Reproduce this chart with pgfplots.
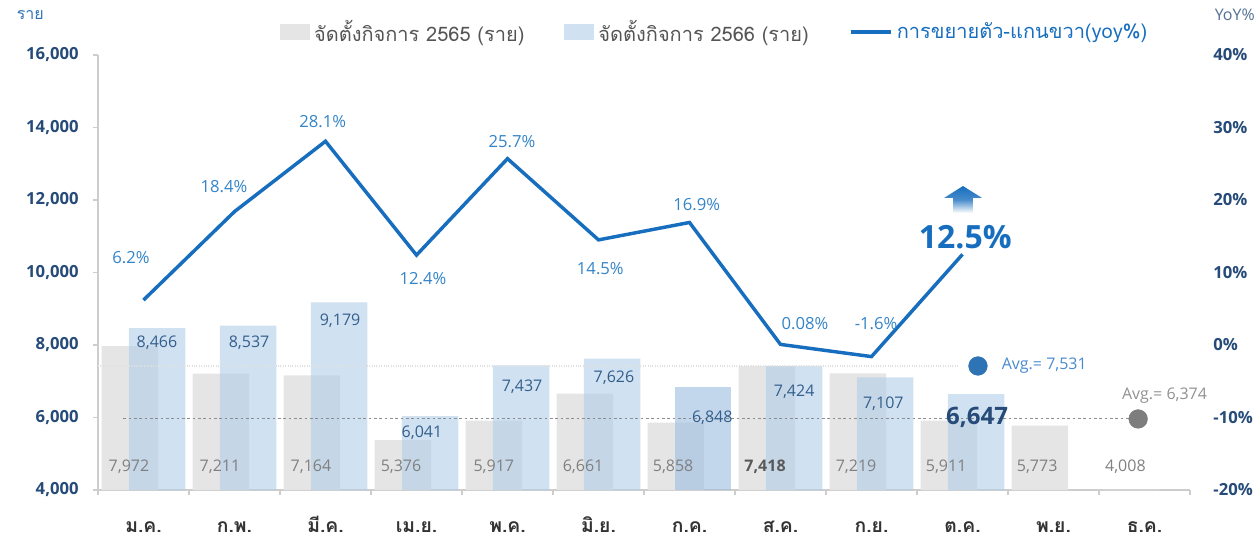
\documentclass[border=0pt]{standalone}
\usepackage{fontspec}
\setmainfont{Open Sans}
\newfontfamily\thaifont[Script=Thai]{Loma}
\usepackage{pgfplots}
\pgfplotsset{compat=1.18}

\definecolor{graybar}{RGB}{229,229,229}
\definecolor{bluebar}{RGB}{177,205,233}
\definecolor{bluebarhi}{RGB}{155,188,224}
\definecolor{yoyline}{RGB}{24,110,190}
\definecolor{yoytext}{RGB}{52,132,200}
\definecolor{ticknavy}{RGB}{38,75,120}
\definecolor{valblue}{RGB}{52,95,140}
\definecolor{valgray}{RGB}{128,128,128}
\definecolor{axisgray}{RGB}{205,205,205}
\definecolor{avgblue}{RGB}{46,116,181}
\definecolor{avgtext}{RGB}{74,138,208}
\definecolor{avggray}{RGB}{125,125,125}
\definecolor{legtext}{RGB}{85,85,85}

\newcommand{\fs}[1]{\fontsize{#1}{#1}\selectfont}

\pgfplotsset{
  barlegend/.style={legend image code/.code={\fill[##1] (0pt,-6pt) rectangle (22.5pt,6pt);}},
  linelegend/.style={legend image code/.code={\draw[##1] (0pt,0pt) -- (30pt,0pt);}},
}

\begin{document}
\begin{tikzpicture}
\useasboundingbox (-73.5pt,-37.5pt) rectangle (870.75pt,367.5pt);
% ---- left axis: bars ----
\begin{axis}[
  scale only axis, width=819pt, height=326.25pt,
  xmin=-0.5, xmax=11.5, ymin=4000, ymax=16000,
  clip mode=individual,
  axis x line*=bottom, axis y line*=left,
  axis line style={axisgray, line width=0.8pt},
  xtick={-0.5,0.5,...,11.5},
  x tick label as interval,
  xticklabels={ม.ค.,ก.พ.,มี.ค.,เม.ย.,พ.ค.,มิ.ย.,ก.ค.,ส.ค.,ก.ย.,ต.ค.,พ.ย.,ธ.ค.},
  x tick label style={font=\thaifont\bfseries\fs{14.5}, text=black!80,
    text height=11pt, text depth=3pt, yshift=-13pt},
  ytick={4000,6000,...,16000}, scaled y ticks=false,
  y tick label style={font=\bfseries\fs{12.5}, text=ticknavy, xshift=-7pt},
  /pgf/number format/.cd, 1000 sep={,}, assume math mode=true, /pgfplots/.cd,
  tick style={axisgray, line width=0.8pt},
  major tick length=4pt, tick align=outside,
  legend style={at={(0.565,1.053)}, anchor=center, draw=none, fill=none,
    font=\thaifont\fs{15}, inner sep=0pt,
    /tikz/every odd column/.append style={column sep=1pt},
    /tikz/every even column/.append style={column sep=28pt}},
  legend columns=3,
]
\addplot[ybar, bar width=0.62, bar shift=-0.15, fill=graybar, draw=none, barlegend]
  coordinates {(0,7972)(1,7211)(2,7164)(3,5376)(4,5917)(5,6661)(6,5858)(7,7418)(8,7219)(9,5911)(10,5773)(11,4008)};
\addlegendentry{\textcolor{legtext}{จัดตั้งกิจการ 2565 (ราย)}}
\addplot[ybar, bar width=0.62, bar shift=0.15, fill=bluebar, fill opacity=0.6, draw=none, barlegend]
  coordinates {(0,8466)(1,8537)(2,9179)(3,6041)(4,7437)(5,7626)(7,7424)(8,7107)(9,6647)};
\addlegendentry{\textcolor{legtext}{จัดตั้งกิจการ 2566 (ราย)}}
\addplot[ybar, bar width=0.62, bar shift=0.15, fill=bluebarhi, fill opacity=0.6, draw=none, forget plot]
  coordinates {(6,6848)};
\addlegendimage{yoyline, line width=3pt, linelegend}
\addlegendentry{\textcolor{yoyline}{การขยายตัว-แกนขวา(yoy\%)}}

% average lines and markers
\addplot[forget plot, black!12, densely dotted, line width=0.8pt] coordinates {(-0.5,7421)(8.95,7421)};
\addplot[forget plot, black!45, dash pattern=on 2pt off 2pt, line width=0.7pt] coordinates {(-0.22,5960)(10.93,5960)};
\addplot[forget plot, only marks, mark=*, mark size=7pt, avgblue] coordinates {(9.17,7421)};
\addplot[forget plot, only marks, mark=*, mark size=7pt, avggray] coordinates {(10.93,5960)};
\node[anchor=west, font=\fs{12}, text=avgtext] at (axis cs:9.38,7421) {Avg.= 7,531};
\node[font=\fs{12}, text=avggray!85] at (axis cs:11.22,6607) {Avg.= 6,374};

% 2566 values
\node[font=\fs{12}, text=valblue] at (axis cs:0.148,8055) {8,466};
\node[font=\fs{12}, text=valblue] at (axis cs:1.16,8055) {8,537};
\node[font=\fs{12}, text=valblue] at (axis cs:2.16,8662) {9,179};
\node[font=\fs{12}, text=valblue] at (axis cs:3.06,5572) {6,041};
\node[font=\fs{12}, text=valblue] at (axis cs:4.16,6841) {7,437};
\node[font=\fs{12}, text=valblue] at (axis cs:5.17,7090) {7,626};
\node[font=\fs{12}, text=valblue] at (axis cs:6.25,5986) {6,848};
\node[font=\fs{12}, text=valblue] at (axis cs:7.15,6703) {7,424};
\node[font=\fs{12}, text=valblue] at (axis cs:8.13,6372) {7,107};
\node[font=\bfseries\fs{18}, text=ticknavy] at (axis cs:9.16,6014) {6,647};
% 2565 values
\node[font=\fs{12}, text=valgray] at (axis cs:-0.16,4634) {7,972};
\node[font=\fs{12}, text=valgray] at (axis cs:0.84,4634) {7,211};
\node[font=\fs{12}, text=valgray] at (axis cs:1.84,4634) {7,164};
\node[font=\fs{12}, text=valgray] at (axis cs:2.83,4634) {5,376};
\node[font=\fs{12}, text=valgray] at (axis cs:3.85,4634) {5,917};
\node[font=\fs{12}, text=valgray] at (axis cs:4.83,4634) {6,661};
\node[font=\fs{12}, text=valgray] at (axis cs:5.82,4634) {5,858};
\node[font=\bfseries\fs{12}, text=black!65] at (axis cs:6.83,4634) {7,418};
\node[font=\fs{12}, text=valgray] at (axis cs:7.83,4634) {7,219};
\node[font=\fs{12}, text=valgray] at (axis cs:8.82,4634) {5,911};
\node[font=\fs{12}, text=valgray] at (axis cs:9.82,4634) {5,773};
\node[font=\fs{12}, text=valgray] at (axis cs:10.79,4634) {4,008};

\node[font=\thaifont\fs{12}, text=avgblue] at (rel axis cs:-0.062,1.092) {ราย};
\node[font=\fs{12}, text=ticknavy!80] at (rel axis cs:1.041,1.092) {YoY\%};
\end{axis}

% ---- right axis: yoy line ----
\begin{axis}[
  scale only axis, width=819pt, height=326.25pt,
  xmin=-0.5, xmax=11.5, ymin=-20, ymax=40,
  clip mode=individual,
  axis x line=none, axis y line*=right,
  y axis line style={draw=none},
  ytick={-20,-10,...,40}, major tick length=0pt,
  yticklabel={\pgfmathprintnumber{\tick}\%},
  y tick label style={font=\bfseries\fs{12.5}, text=ticknavy, xshift=14pt},
  /pgf/number format/assume math mode=true,
]
\addplot[yoyline, line width=2.6pt, line join=miter] coordinates {(0,6.2)(1,18.4)(2,28.1)(3,12.4)(4,25.7)(5,14.5)(6,16.9)(7,0.08)(8,-1.6)(9,12.5)};
\node[font=\fs{12.5}, text=yoytext] at (axis cs:-0.137,12.0) {6.2\%};
\node[font=\fs{12.5}, text=yoytext] at (axis cs:0.885,21.8) {18.4\%};
\node[font=\fs{12.5}, text=yoytext] at (axis cs:1.97,30.8) {28.1\%};
\node[font=\fs{12.5}, text=yoytext] at (axis cs:3.07,9.1) {12.4\%};
\node[font=\fs{12.5}, text=yoytext] at (axis cs:4.05,28.0) {25.7\%};
\node[font=\fs{12.5}, text=yoytext] at (axis cs:5.02,10.6) {14.5\%};
\node[font=\fs{12.5}, text=yoytext] at (axis cs:6.08,19.4) {16.9\%};
\node[font=\fs{12.5}, text=yoytext] at (axis cs:7.27,3.0) {0.08\%};
\node[font=\fs{12.5}, text=yoytext] at (axis cs:8.05,3.0) {-1.6\%};
\node[font=\bfseries\fs{24}, text=yoyline] at (axis cs:9.03,14.9) {12.5\%};
\shade[top color=yoyline, bottom color=white, middle color=yoyline!80]
  (axis cs:9.005,21.93) -- (axis cs:9.215,20.28) -- (axis cs:9.115,20.28)
  -- (axis cs:9.115,18.21) -- (axis cs:8.896,18.21) -- (axis cs:8.896,20.28)
  -- (axis cs:8.797,20.28) -- cycle;
\end{axis}
\end{tikzpicture}
\end{document}
